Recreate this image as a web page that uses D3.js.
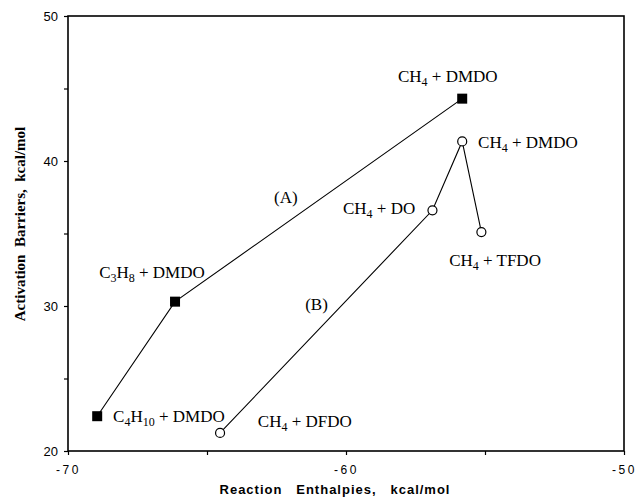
<!DOCTYPE html>
<html>
<head>
<meta charset="utf-8">
<script src="https://cdn.jsdelivr.net/npm/d3@7"></script>
<style>
body { margin: 0; background: #fff; }
.lbl { font-family: "Liberation Serif", "Times New Roman", serif; font-size: 17px; fill: #000; }
.tick text { font-family: "Liberation Sans", Arial, sans-serif; font-size: 12px; letter-spacing: 2.5px; fill: #000; }
</style>
</head>
<body>
<div id="chart"></div>
<script>
// (A) filled squares: DMDO with different alkanes
var seriesA_x = [-68.95, -66.15, -55.82],
    seriesA_y = [22.4, 30.3, 44.3];
// (B) open circles: methane with different dioxiranes
var seriesB_x = [-64.53, -56.89, -55.82, -55.13],
    seriesB_y = [21.25, 36.6, 41.35, 35.1];

var xTicks = [-70, -65, -60, -55, -50],
    yTicks = [20, 25, 30, 35, 40, 45, 50];

// text parts: [main, subscript, rest]
var labelParts = [
  ["CH", "4", " + DMDO"],
  ["CH", "4", " + DMDO"],
  ["CH", "4", " + DO"],
  ["CH", "4", " + TFDO"],
  ["CH", "4", " + DFDO"],
  ["C", "4", "H", "10", " + DMDO"],
  ["C", "3", "H", "8", " + DMDO"],
  ["(A)"],
  ["(B)"]
];
var labelX = [-58.13, -55.25, -60.11, -56.29, -63.17, -68.38, -68.88, -62.59, -61.47],
    labelY = [45.45, 40.9, 36.34, 32.76, 21.66, 22.0, 31.93, 37.1, 29.72];

var W = 638, H = 498,
    m = {left: 68, right: 14, top: 16, bottom: 47},
    iw = W - m.left - m.right,
    ih = H - m.top - m.bottom;

var svg = d3.select('#chart').append('svg')
    .attr('width', W).attr('height', H);

var g = svg.append('g').attr('transform', 'translate(' + m.left + ',' + m.top + ')');

var x = d3.scaleLinear().domain([-70, -50]).range([0, iw]),
    y = d3.scaleLinear().domain([20, 50]).range([ih, 0]);

var fmt = function(d) { return d % 10 === 0 ? String(d) : ''; };

var xa = g.append('g').attr('transform', 'translate(0,' + ih + ')')
  .call(d3.axisBottom(x).tickValues(xTicks).tickSize(4).tickPadding(10).tickFormat(fmt));
var ya = g.append('g')
  .call(d3.axisLeft(y).tickValues(yTicks).tickSize(4).tickPadding(6).tickFormat(fmt));
ya.selectAll('.tick text').style('letter-spacing', '0px').style('font-size', '13px');
[xa, ya].forEach(function(a) {
  a.select('.domain').remove();
  a.selectAll('.tick line').attr('stroke', '#000').attr('stroke-width', 1.2);
});

g.append('rect').attr('width', iw).attr('height', ih)
  .attr('fill', 'none').attr('stroke', '#000').attr('stroke-width', 1.6);

var line = d3.line().x(function(d) { return x(d[0]); }).y(function(d) { return y(d[1]); });
var A = d3.zip(seriesA_x, seriesA_y),
    B = d3.zip(seriesB_x, seriesB_y);

g.append('path').datum(A).attr('d', line)
  .attr('fill', 'none').attr('stroke', '#000').attr('stroke-width', 1.1);
g.append('path').datum(B).attr('d', line)
  .attr('fill', 'none').attr('stroke', '#000').attr('stroke-width', 1.1);

g.selectAll('rect.sq').data(A).enter().append('rect').attr('class', 'sq')
  .attr('x', function(d) { return x(d[0]) - 5; })
  .attr('y', function(d) { return y(d[1]) - 5; })
  .attr('width', 10).attr('height', 10).attr('fill', '#000');

g.selectAll('circle').data(B).enter().append('circle')
  .attr('cx', function(d) { return x(d[0]); })
  .attr('cy', function(d) { return y(d[1]); })
  .attr('r', 4.5).attr('fill', '#fff').attr('stroke', '#000').attr('stroke-width', 1.2);

labelParts.forEach(function(parts, i) {
  var t = g.append('text').attr('class', 'lbl')
    .attr('x', x(labelX[i])).attr('y', y(labelY[i]))
    .attr('xml:space', 'preserve');
  parts.forEach(function(p, j) {
    var sub = j % 2 === 1;
    t.append('tspan').text(p)
      .attr('dy', j === 0 ? 0 : (sub ? 4 : -4))
      .style('font-size', sub ? '12px' : null);
  });
});

svg.append('text')
  .attr('x', 335).attr('y', 494)
  .attr('text-anchor', 'middle')
  .attr('xml:space', 'preserve')
  .style('font-family', '"Liberation Sans", Arial, sans-serif')
  .style('font-weight', 'bold').style('font-size', '13px').style('letter-spacing', '1px')
  .text('Reaction   Enthalpies,   kcal/mol');

svg.append('text')
  .attr('transform', 'translate(25,224) rotate(-90)')
  .attr('text-anchor', 'middle')
  .attr('xml:space', 'preserve')
  .style('font-family', '"Liberation Serif", "Times New Roman", serif')
  .style('font-weight', 'bold').style('font-size', '15px')
  .text('Activation  Barriers,  kcal/mol');
</script>
</body>
</html>
